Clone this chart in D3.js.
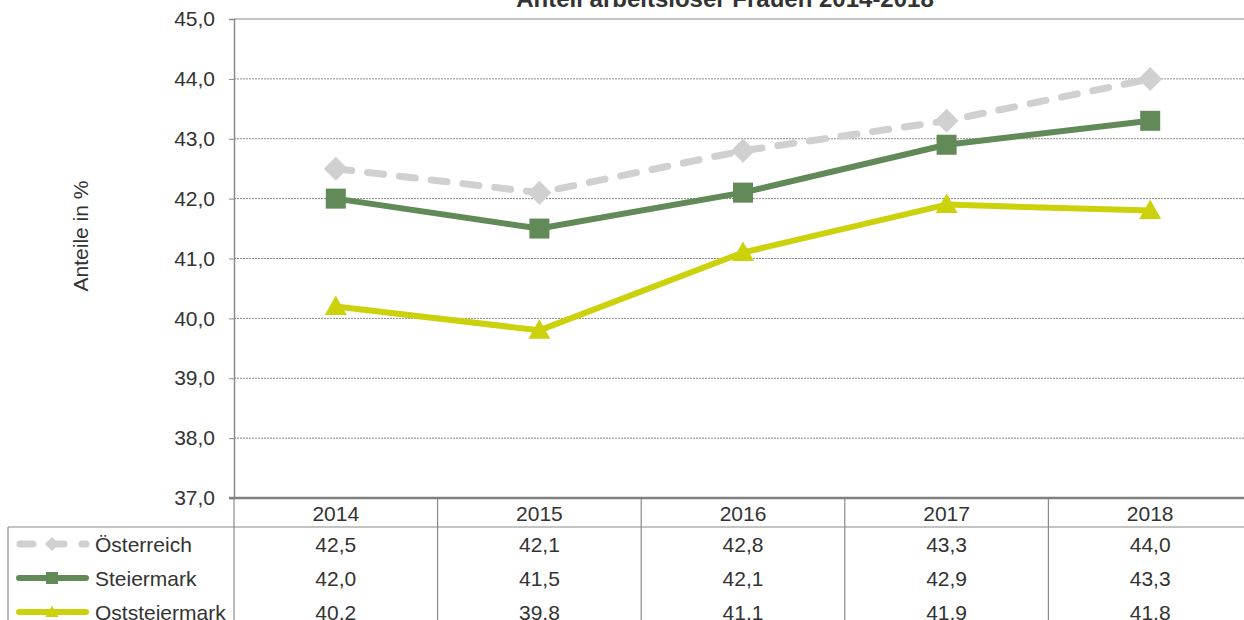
<!DOCTYPE html>
<html>
<head>
<meta charset="utf-8">
<script src="https://cdn.jsdelivr.net/npm/d3@7"></script>
<style>
  body { margin: 0; background: #fff; }
  svg { display: block; font-family: "Liberation Sans", Arial, sans-serif; }
</style>
</head>
<body>
<svg id="chart" width="1244" height="620"></svg>
<script>
const years = ['2014', '2015', '2016', '2017', '2018']
const oesterreich = [42.5, 42.1, 42.8, 43.3, 44.0]
const steiermark = [42.0, 41.5, 42.1, 42.9, 43.3]
const oststeiermark = [40.2, 39.8, 41.1, 41.9, 41.8]
const yTicks = [37, 38, 39, 40, 41, 42, 43, 44, 45]

const series = [
  { name: 'Österreich', values: oesterreich, color: '#d0d0d0', width: 7, dash: '16,16', marker: 'diamond' },
  { name: 'Steiermark', values: steiermark, color: '#628a58', width: 6, dash: null, marker: 'square' },
  { name: 'Oststeiermark', values: oststeiermark, color: '#cbd20c', width: 6, dash: null, marker: 'triangle' }
]

const plot = { left: 234, right: 1252, top: 19, bottom: 498 }
const rowH = 34
const headerBottom = 527
const tableLeft = 8
const fs = 21
const fmt = d => d3.format('.1f')(d).replace('.', ',')

const svg = d3.select('#chart')

const x = d3.scaleBand().domain(years).range([plot.left, plot.right])
const y = d3.scaleLinear().domain([37, 45]).range([plot.bottom, plot.top])

// title (cut off at top)
svg.append('text')
  .attr('x', 725).attr('y', 7)
  .attr('text-anchor', 'middle')
  .attr('font-size', 24).attr('font-weight', 'bold').attr('fill', '#333')
  .text('Anteil arbeitsloser Frauen 2014-2018')

// gridlines
svg.append('g')
  .selectAll('line')
  .data(yTicks.filter(d => d > 37))
  .enter().append('line')
  .attr('x1', plot.left).attr('x2', plot.right)
  .attr('y1', d => y(d)).attr('y2', d => y(d))
  .attr('stroke', '#8a8a8a')
  .attr('stroke-width', 1)
  .attr('stroke-dasharray', d => d === 45 ? null : '2,1')

// y axis
const yAxis = d3.axisLeft(y).tickValues(yTicks).tickFormat(fmt).tickSize(5).tickPadding(14)
const ga = svg.append('g').attr('transform', `translate(${plot.left},0)`).call(yAxis)
ga.select('.domain').attr('stroke', '#8a8a8a').attr('stroke-width', 1.5)
ga.selectAll('.tick line').attr('stroke', '#8a8a8a')
ga.selectAll('.tick text').attr('font-size', fs).attr('fill', '#333')
  .attr('font-family', '"Liberation Sans", Arial, sans-serif')

// y label
svg.append('text')
  .attr('transform', 'translate(88,236) rotate(-90)')
  .attr('text-anchor', 'middle')
  .attr('font-size', fs).attr('fill', '#333')
  .text('Anteile in %')

// table lines
const tbl = svg.append('g').attr('stroke', '#8a8a8a').attr('stroke-width', 1.2)
tbl.append('line').attr('x1', tableLeft).attr('x2', plot.right)
  .attr('y1', headerBottom).attr('y2', headerBottom)
tbl.append('line').attr('x1', tableLeft).attr('x2', tableLeft)
  .attr('y1', headerBottom).attr('y2', 620)
tbl.selectAll('.v')
  .data(years.slice(1).concat(['end']))
  .enter().append('line')
  .attr('x1', (d, i) => i < 4 ? x(d) : plot.right)
  .attr('x2', (d, i) => i < 4 ? x(d) : plot.right)
  .attr('y1', plot.bottom).attr('y2', 620)
tbl.append('line').attr('x1', plot.left).attr('x2', plot.left)
  .attr('y1', plot.bottom).attr('y2', 620)

// bottom axis line (thick)
svg.append('line')
  .attr('x1', plot.left - 5).attr('x2', plot.right)
  .attr('y1', plot.bottom).attr('y2', plot.bottom)
  .attr('stroke', '#808080').attr('stroke-width', 2.5)

// header years
svg.append('g').selectAll('text')
  .data(years)
  .enter().append('text')
  .attr('x', d => x(d) + x.bandwidth() / 2)
  .attr('y', 521)
  .attr('text-anchor', 'middle')
  .attr('font-size', fs).attr('fill', '#333')
  .text(d => d)

function drawMarker (g, type, cx, cy, color, s) {
  if (type === 'diamond') {
    g.append('path')
      .attr('d', `M${cx},${cy - s}L${cx + s},${cy}L${cx},${cy + s}L${cx - s},${cy}Z`)
      .attr('fill', color)
  } else if (type === 'square') {
    g.append('rect')
      .attr('x', cx - s).attr('y', cy - s)
      .attr('width', 2 * s).attr('height', 2 * s)
      .attr('fill', color)
  } else {
    g.append('path')
      .attr('d', `M${cx},${cy - s * 1.1}L${cx + s * 1.1},${cy + s * 0.85}L${cx - s * 1.1},${cy + s * 0.85}Z`)
      .attr('fill', color)
  }
}

const line = d3.line()
  .x((d, i) => x(years[i]) + x.bandwidth() / 2)
  .y(d => y(d))

series.forEach((s, k) => {
  const g = svg.append('g')
  g.append('path')
    .datum(s.values)
    .attr('d', line)
    .attr('fill', 'none')
    .attr('stroke', s.color)
    .attr('stroke-width', s.width)
    .attr('stroke-linecap', s.dash ? 'round' : 'butt')
    .attr('stroke-linejoin', 'round')
    .attr('stroke-dasharray', s.dash)
  s.values.forEach((v, i) => {
    drawMarker(g, s.marker, x(years[i]) + x.bandwidth() / 2, y(v), s.color, s.marker === 'diamond' ? 12 : 10)
  })

  // table row
  const cy = headerBottom + rowH * k + rowH / 2
  const lg = svg.append('g')
  lg.append('line')
    .attr('x1', s.dash ? 20 : 19).attr('x2', 86)
    .attr('y1', cy).attr('y2', cy)
    .attr('stroke', s.color)
    .attr('stroke-width', s.width)
    .attr('stroke-linecap', 'round')
    .attr('stroke-dasharray', s.dash ? '13,18' : null)
  drawMarker(lg, s.marker, 52, cy, s.color, s.marker === 'diamond' ? 7 : 6)
  lg.append('text')
    .attr('x', 95).attr('y', cy + 7.5)
    .attr('font-size', fs).attr('fill', '#333')
    .text(s.name)
  lg.selectAll('.val')
    .data(s.values)
    .enter().append('text')
    .attr('x', (d, i) => x(years[i]) + x.bandwidth() / 2)
    .attr('y', cy + 7.5)
    .attr('text-anchor', 'middle')
    .attr('font-size', fs).attr('fill', '#333')
    .text(d => fmt(d))
})
</script>
</body>
</html>
